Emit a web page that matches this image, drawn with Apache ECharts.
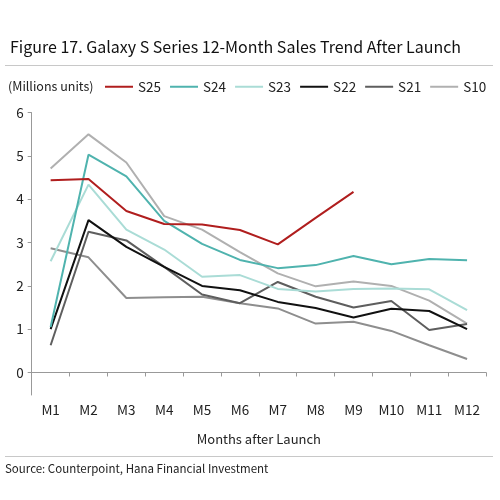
<!DOCTYPE html>
<html>
<head>
<meta charset="utf-8">
<script src="https://cdn.jsdelivr.net/npm/echarts@6/dist/echarts.min.js"></script>
<style>
html,body{margin:0;padding:0;background:#fff;}
#c{width:500px;height:500px;}
</style>
</head>
<body>
<div id="c"></div>
<script>
const categories = ['M1','M2','M3','M4','M5','M6','M7','M8','M9','M10','M11','M12'];
const yTicks = [0,1,2,3,4,5,6];
const s25 = [4.44, 4.47, 3.73, 3.43, 3.42, 3.29, 2.96, 3.57, 4.17, null, null, null];
const s24 = [1.05, 5.03, 4.53, 3.50, 2.97, 2.60, 2.41, 2.48, 2.69, 2.50, 2.62, 2.59];
const s23 = [2.57, 4.34, 3.30, 2.84, 2.21, 2.25, 1.93, 1.87, 1.93, 1.94, 1.92, 1.44];
const s22 = [1.00, 3.52, 2.90, 2.44, 2.00, 1.90, 1.63, 1.49, 1.27, 1.47, 1.42, 1.00];
const s21 = [0.63, 3.25, 3.05, 2.44, 1.80, 1.60, 2.09, 1.75, 1.50, 1.65, 0.98, 1.12];
const s10 = [4.71, 5.50, 4.85, 3.61, 3.30, 2.78, 2.29, 1.99, 2.10, 2.00, 1.66, 1.13];
const sOther = [2.87, 2.66, 1.72, 1.74, 1.75, 1.60, 1.48, 1.13, 1.17, 0.96, 0.63, 0.31];

const FONT = '"Noto Sans CJK KR", "Noto Sans", sans-serif';
const chart = echarts.init(document.getElementById('c'), null, {renderer:'canvas'});
function line(name, data, color, z){
  return {name:name, type:'line', data:data, symbol:'none', z:z,
    lineStyle:{color:color, width:2}, itemStyle:{color:color}, connectNulls:false};
}
chart.setOption({
  animation:false,
  textStyle:{fontFamily:FONT, color:'#222'},
  title:{text:'Figure 17. Galaxy S Series 12-Month Sales Trend After Launch', left:5, top:34,
    textStyle:{fontFamily:FONT, fontSize:16, fontWeight:'normal', color:'#111'}},
  graphic:[
    {type:'line', shape:{x1:5,y1:65.5,x2:493,y2:65.5}, style:{stroke:'#c8c8c8', lineWidth:1}},
    {type:'text', left:8, top:80, style:{text:'(Millions units)', fontFamily:FONT, fontSize:12.5, fill:'#222'}},
    {type:'line', shape:{x1:5,y1:456.5,x2:493,y2:456.5}, style:{stroke:'#c8c8c8', lineWidth:1}},
    {type:'text', left:5, top:463, style:{text:'Source: Counterpoint, Hana Financial Investment', fontFamily:FONT, fontSize:11.5, fill:'#222'}}
  ],
  legend:{data:['S25','S24','S23','S22','S21','S10'], left:105, top:80, width:395, icon:'rect', itemWidth:28, itemHeight:2,
    itemGap:9, padding:0, textStyle:{fontFamily:FONT, fontSize:13.5, color:'#222'}},
  grid:{left:31.7, right:14, top:112.7, bottom:105},
  xAxis:{type:'category', data:categories, boundaryGap:true,
    axisLine:{lineStyle:{color:'#999'}}, axisTick:{show:true, length:4, lineStyle:{color:'#999'}},
    axisLabel:{fontFamily:FONT, fontSize:13.5, color:'#222', margin:8},
    name:'Months after Launch', nameLocation:'middle', nameGap:38,
    nameTextStyle:{fontFamily:FONT, fontSize:13, color:'#222'}},
  yAxis:{type:'value', min:-0.52, max:6,
    axisLine:{show:true, lineStyle:{color:'#999'}},
    axisTick:{show:true, length:4, lineStyle:{color:'#999'}, customValues:yTicks},
    axisLabel:{fontFamily:FONT, fontSize:13.5, color:'#222', margin:8, customValues:yTicks},
    splitLine:{show:false}},
  series:[
    line('S20', sOther, '#8e8e8e', 1),
    line('S10', s10, '#b0b0b0', 2),
    line('S21', s21, '#5e5e5e', 3),
    line('S22', s22, '#111111', 4),
    line('S23', s23, '#aadcd6', 5),
    line('S24', s24, '#4fb3ae', 6),
    line('S25', s25, '#b01e1e', 7)
  ]
});
</script>
</body>
</html>
